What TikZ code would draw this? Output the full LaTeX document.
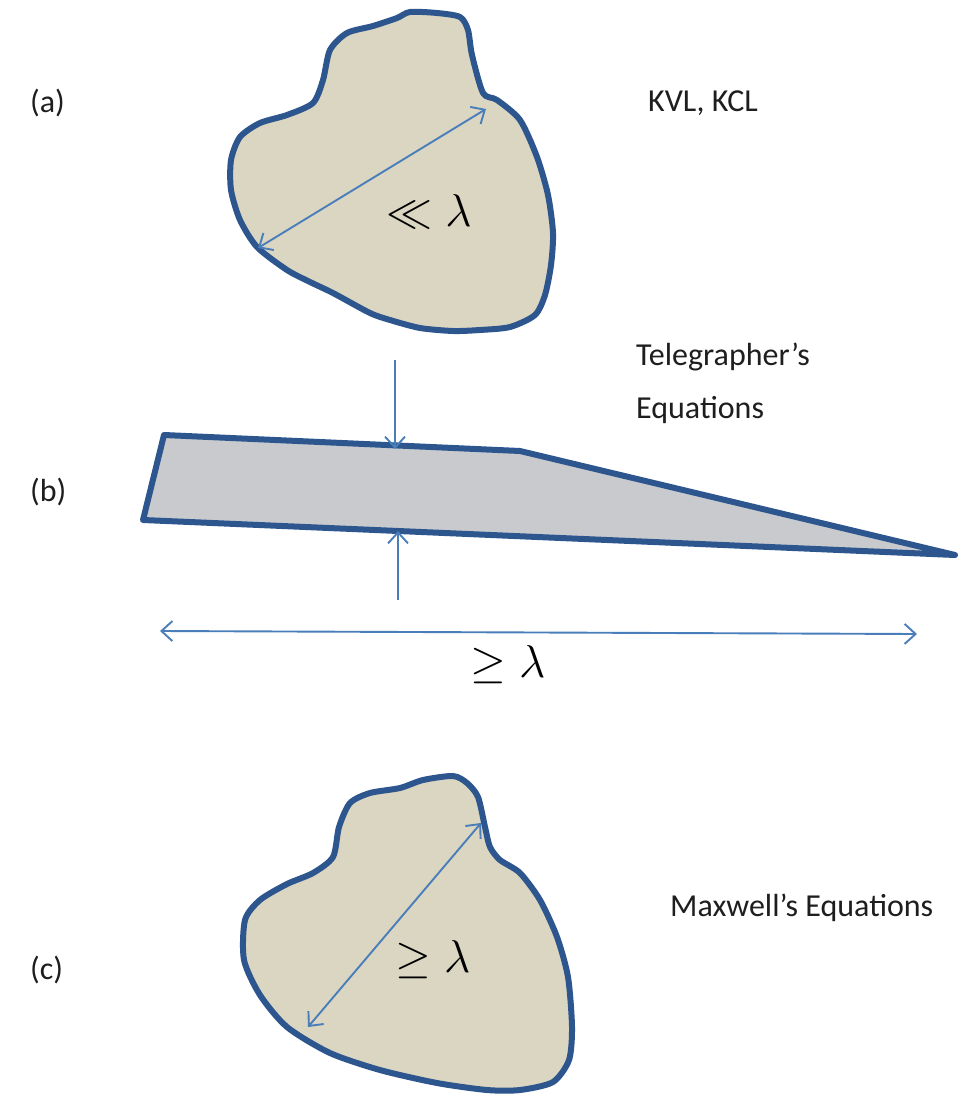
\documentclass[tikz,border=0pt]{standalone}
\usepackage{fontspec}
\setmainfont{Carlito}
\usetikzlibrary{arrows.meta}
\definecolor{blobfill}{RGB}{218,214,194}
\definecolor{wedgefill}{RGB}{200,202,206}
\definecolor{outline}{RGB}{46,86,142}
\definecolor{arrowblue}{RGB}{74,126,187}
\definecolor{txt}{RGB}{30,30,30}
\tikzset{
  shapeline/.style={draw=outline, line width=6pt, line join=round},
  dim/.style={draw=arrowblue, line width=1.9pt, {Straight Barb[length=11pt,width=20pt]}-{Straight Barb[length=11pt,width=20pt]}},
  dimone/.style={draw=arrowblue, line width=1.9pt, -{Straight Barb[length=11pt,width=20pt]}},
  lab/.style={anchor=west, inner sep=0pt, text=txt, font=\fontsize{32}{38}\selectfont},
  mathlab/.style={inner sep=0pt, text=black, font=\Huge}
}
\newcommand{\bigmath}[1]{\scalebox{1.85}{$#1$}}
\begin{document}
\begin{tikzpicture}[x=1pt,y=-1pt]
\useasboundingbox (0,0) rectangle (959,1094);
\fill[white] (0,0) rectangle (959,1094);
% (a) blob
\draw[shapeline, fill=blobfill] plot[smooth cycle, tension=0.45] coordinates {
 (410,12) (437,13) (460,17) (468,30) (472,55) (483,93) (497,100) (520,120)
 (537,157) (548,195) (553,233) (551,265) (545,295) (535,315) (510,327)
 (480,330) (453,331) (420,328) (390,320) (370,313) (333,293) (310,282)
 (287,270) (257,247) (240,220) (231,190) (231,160) (240,137) (260,123)
 (287,115) (313,103) (323,80) (330,50) (347,33) (373,26) (397,18)};
\coordinate (a1) at (258,248);
\coordinate (a2) at (486,109);
\draw[dim] (a1) -- (a2);
\node[mathlab] (ma) at (429,211) {\bigmath{\ll\lambda}};
% (b) wedge
\draw[shapeline, fill=wedgefill] (164,435) -- (520,451) -- (955,555) -- (143,520) -- cycle;
\coordinate (d1) at (395,360);
\coordinate (d2) at (395,449);
\draw[dimone] (d1) -- (d2);
\coordinate (u1) at (398,600);
\coordinate (u2) at (398,531);
\draw[dimone] (u1) -- (u2);
\coordinate (h1) at (160,631);
\coordinate (h2) at (917,634);
\draw[dim] (h1) -- (h2);
\node[mathlab] (mb) at (508,665) {\bigmath{\geq\lambda}};
% (c) blob
\draw[shapeline, fill=blobfill] plot[smooth cycle, tension=0.45] coordinates {
 (423,780) (453,776) (467,783) (478,797) (485,827) (490,847) (500,860)
 (520,873) (540,900) (557,937) (568,977) (572,1027) (569,1060) (553,1082)
 (520,1090) (487,1090) (437,1083) (380,1070) (330,1053) (287,1027)
 (260,995) (244,960) (245,920) (260,900) (287,884) (313,873) (333,857)
 (339,827) (350,803) (370,793) (400,788)};
\coordinate (c1) at (308,1027);
\coordinate (c2) at (481,823);
\draw[dim] (c1) -- (c2);
\node[mathlab] (mc) at (433,960) {\bigmath{\geq\lambda}};
% labels
\node[lab] (la) at (30,103) {(a)};
\node[lab] (lb) at (30,492) {(b)};
\node[lab] (lc) at (30,970) {(c)};
\node[lab] (kvl) at (648,103) {KVL, KCL};
\node[lab] (tel1) at (636,357) {Telegrapher’s};
\node[lab] (tel2) at (636,410) {Equations};
\node[lab] (max) at (670,908) {Maxwell’s Equations};
\end{tikzpicture}
\end{document}
